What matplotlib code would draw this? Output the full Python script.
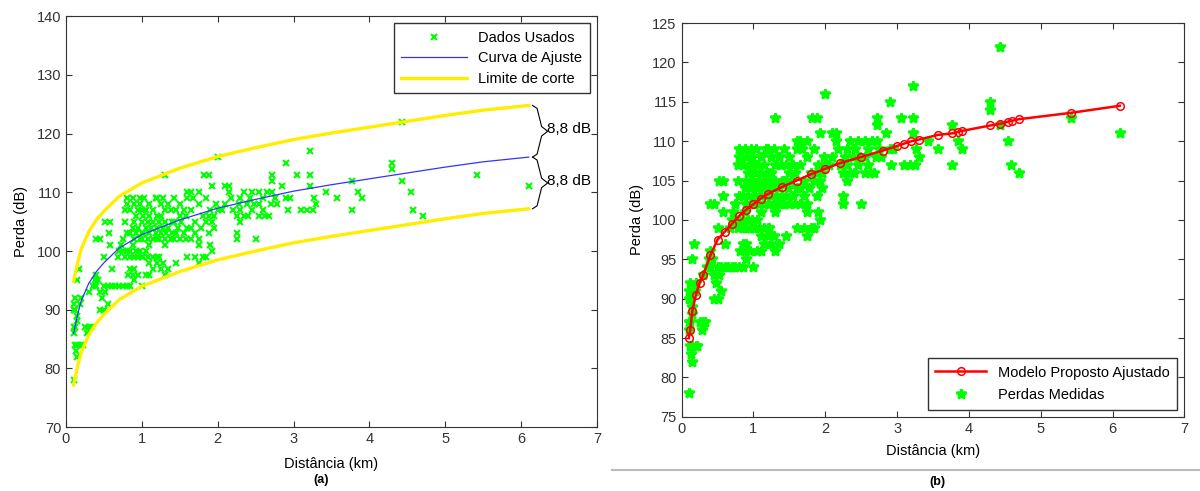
import numpy as np
import matplotlib
matplotlib.use("Agg")
import matplotlib.pyplot as plt

# measured losses (km, dB) - same data in both panels
dist_km = [
    0.10, 0.15, 0.13, 0.12, 0.15, 0.20, 0.22, 0.10, 0.10, 0.12, 0.15, 0.14, 0.10, 0.12, 0.10, 0.18, 0.12, 0.20, 0.15, 0.17,
    0.28, 0.25, 0.30, 0.33, 0.30, 0.35, 0.40, 0.38, 0.40,
    0.45, 0.50, 0.55, 0.48, 0.45, 0.52, 0.50, 0.55, 0.60, 0.42, 0.50, 0.58, 0.40, 0.45, 0.57, 0.52, 0.58,
    0.65, 0.70, 0.75, 0.60, 0.68, 0.78, 0.70, 0.75, 0.80, 0.72, 0.75, 0.80, 0.78, 0.78, 0.80, 0.80,
    0.80, 0.85, 0.90, 0.82, 0.88, 0.95, 0.85, 0.90, 0.85, 0.90, 0.95, 1.00, 0.85, 0.92, 0.98, 0.88, 0.90, 0.98,
    0.85, 0.92, 1.00, 0.88, 0.95, 0.90, 1.00, 0.92, 0.85, 0.95, 1.00, 0.90, 0.98, 0.88, 0.97,
    1.00, 1.05, 1.10, 1.15, 1.10, 1.20, 1.02, 1.08, 1.15, 1.20, 1.05, 1.10, 1.00, 1.08, 1.15, 1.20, 1.02, 1.10, 1.18,
    1.05, 1.12, 1.20, 1.08, 1.15, 1.02, 1.10, 1.20, 1.05, 1.15, 1.10, 1.03, 1.18,
    1.30, 1.25, 1.35, 1.28, 1.22, 1.30, 1.22, 1.30, 1.38, 1.25, 1.32, 1.40, 1.28, 1.35, 1.22, 1.30, 1.40, 1.25,
    1.30, 1.38, 1.25, 1.35, 1.20, 1.28, 1.30,
    1.45, 1.42, 1.50, 1.58, 1.45, 1.55, 1.48, 1.60, 1.42, 1.52, 1.50, 1.58, 1.45, 1.55, 1.50, 1.42, 1.60, 1.60, 1.60,
    1.75, 1.70, 1.80, 1.75, 1.65, 1.75, 1.70, 1.65, 1.78, 1.70, 1.80, 1.65, 1.75, 1.68, 1.65, 1.75, 1.82,
    1.85, 1.93, 1.90, 1.88, 1.95, 1.85, 1.92, 1.88, 1.95, 1.90, 2.00, 1.98, 1.85, 1.93, 1.88, 2.00,
    2.25, 2.30, 2.25, 2.35, 2.40, 2.05, 2.20, 2.30, 2.45, 2.10, 2.28, 2.38, 2.48, 2.18, 2.30, 2.42, 2.15, 2.35, 2.45,
    2.10, 2.15, 2.50, 2.25,
    2.55, 2.62, 2.68, 2.60, 2.92, 2.55, 2.70, 2.78, 2.60, 2.75, 2.90, 2.95, 2.55, 2.65, 2.72, 2.85, 2.72, 2.72, 2.90,
    3.10, 3.18, 3.25, 3.30, 3.27, 3.43, 3.22, 3.05, 3.22, 3.22,
    3.77, 3.57, 3.90, 3.85, 3.77,
    4.30, 4.30, 4.43, 4.43, 4.55, 4.58, 4.70, 5.42, 6.10,
]
loss_db = [
    78, 82, 83, 84, 84, 84, 84, 86, 87, 87, 88, 89, 90, 90, 91, 91, 92, 92, 95, 97,
    86, 87, 87, 87, 93, 94, 94, 95, 96,
    90, 90, 91, 92, 93, 93, 94, 94, 94, 95, 99, 101, 102, 102, 103, 105, 105,
    94, 94, 94, 97, 99, 99, 100, 100, 100, 101, 102, 103, 105, 107, 108, 109,
    94, 94, 95, 96, 96, 96, 97, 97, 99, 99, 99, 99, 100, 100, 100, 101, 102, 102,
    103, 103, 103, 104, 104, 105, 105, 106, 107, 107, 107, 108, 108, 109, 109,
    94, 96, 96, 97, 98, 98, 99, 99, 99, 99, 100, 101, 102, 102, 102, 102, 103, 103, 103,
    104, 104, 104, 105, 105, 106, 106, 106, 107, 107, 108, 109, 109,
    96, 97, 97, 98, 99, 101, 102, 102, 102, 103, 103, 103, 104, 104, 105, 105, 105, 106,
    107, 107, 108, 108, 109, 109, 113,
    98, 102, 102, 102, 103, 103, 104, 104, 105, 105, 106, 106, 107, 107, 108, 109, 109, 110, 99,
    98, 99, 99, 101, 102, 102, 103, 104, 104, 105, 106, 107, 108, 109, 110, 110, 113,
    99, 100, 101, 103, 104, 105, 105, 106, 106, 107, 107, 108, 109, 111, 113, 116,
    103, 105, 106, 106, 106, 107, 107, 107, 107, 108, 108, 108, 108, 109, 109, 109, 110, 110, 110,
    111, 111, 102, 102,
    106, 106, 106, 107, 107, 108, 108, 108, 109, 109, 109, 109, 110, 110, 110, 111, 112, 113, 115,
    107, 107, 107, 108, 109, 110, 111, 113, 113, 117,
    107, 109, 109, 110, 112,
    114, 115, 112, 122, 110, 107, 106, 113, 111,
]

# fitted curve of panel (a)
fit_a_km = [0.10, 0.15, 0.20, 0.30, 0.40, 0.50, 0.70, 1.00, 1.50, 2.00, 2.50, 3.00, 3.50, 4.00, 4.50, 5.00, 5.50, 6.10]
fit_a_db = [86.0, 89.0, 91.5, 94.5, 96.5, 98.0, 100.5, 102.8, 105.3, 107.3, 108.8, 110.2, 111.3, 112.3, 113.3, 114.3, 115.2, 116.0]
margin_db = 8.8

# fitted model of panel (b)
fit_b_km = [0.10, 0.12, 0.15, 0.20, 0.25, 0.30, 0.40, 0.50, 0.60, 0.70, 0.80, 0.90, 1.00, 1.10, 1.20, 1.40,
            1.60, 1.80, 2.00, 2.20, 2.50, 2.80, 3.00, 3.10, 3.20, 3.30, 3.57, 3.77, 3.85, 3.90, 4.30,
            4.43, 4.55, 4.60, 4.70, 5.42, 6.10]
fit_b_db = [85.0, 86.0, 88.5, 90.5, 92.0, 93.0, 95.5, 97.5, 98.5, 99.5, 100.5, 101.3, 102.0, 102.7, 103.3, 104.2,
            105.0, 105.8, 106.5, 107.2, 108.0, 108.8, 109.4, 109.7, 110.0, 110.2, 110.8, 111.0, 111.2, 111.3, 112.0,
            112.2, 112.5, 112.6, 112.8, 113.6, 114.5]

plt.rcParams['font.family'] = ['Liberation Sans', 'DejaVu Sans']
plt.rcParams['font.size'] = 10.5
plt.rcParams['xtick.direction'] = 'in'
plt.rcParams['ytick.direction'] = 'in'
plt.rcParams['xtick.top'] = True
plt.rcParams['ytick.right'] = True

fig = plt.figure(figsize=(12, 4.91), dpi=100)
ax1 = fig.add_axes([0.055, 0.130, 0.4425, 0.837])
ax2 = fig.add_axes([0.568, 0.151, 0.419, 0.802])

# panel (a)
ax1.plot(dist_km, loss_db, 'x', color='#00ff00', ms=5, mew=1.5, label='Dados Usados')
ax1.plot(fit_a_km, fit_a_db, '-', color='#3333ff', lw=0.9, label='Curva de Ajuste')
upper = [v + margin_db for v in fit_a_db]
lower = [v - margin_db for v in fit_a_db]
ax1.plot(fit_a_km, upper, '-', color='#ffee00', lw=2.4, label='Limite de corte')
ax1.plot(fit_a_km, lower, '-', color='#ffee00', lw=2.4)

# braces for the 8,8 dB margins
xe = fit_a_km[-1] + 0.05
for top, bot in [(upper[-1], fit_a_db[-1]), (fit_a_db[-1], lower[-1])]:
    mid = (top + bot) / 2
    bx = [xe, xe + 0.06, xe + 0.12, xe + 0.2, xe + 0.12, xe + 0.06, xe]
    by = [top, top - 0.5, mid + 0.8, mid, mid - 0.8, bot + 0.5, bot]
    ax1.plot(bx, by, color='black', lw=0.8, clip_on=False)
    ax1.text(xe + 0.19, mid + 0.4, '8,8 dB', fontsize=11, va='center', ha='left')

ax1.set_xlim(0, 7)
ax1.set_ylim(70, 140)
ax1.set_yticks(np.arange(70, 141, 10))
ax1.set_xlabel('Distância (km)', labelpad=8)
ax1.set_ylabel('Perda (dB)', labelpad=6)
leg1 = ax1.legend(loc='upper right', fontsize=10.5, frameon=True, fancybox=False,
                  edgecolor='black', borderaxespad=0.5, handlelength=4.5,
                  labelspacing=0.45, borderpad=0.5)
leg1.get_frame().set_linewidth(1.0)

# panel (b)
ax2.plot(fit_b_km, fit_b_db, '-o', color='red', ms=5.5, mfc='none', mew=1.1, lw=1.8,
         label='Modelo Proposto Ajustado', zorder=4)
ax2.plot(dist_km, loss_db, '*', color='#00ff00', ms=7, mew=1.8, label='Perdas Medidas', zorder=3)
ax2.set_xlim(0, 7)
ax2.set_ylim(75, 125)
ax2.set_yticks(np.arange(75, 126, 5))
ax2.set_xlabel('Distância (km)', labelpad=6)
ax2.set_ylabel('Perda (dB)', labelpad=6)
leg2 = ax2.legend(loc='lower right', fontsize=10.5, frameon=True, fancybox=False,
                  edgecolor='black', borderaxespad=0.5, handlelength=3.5,
                  labelspacing=0.6, borderpad=0.5)
leg2.get_frame().set_linewidth(1.0)

for ax in (ax1, ax2):
    for s in ax.spines.values():
        s.set_color('#333333')
    ax.tick_params(colors='#333333', length=4)

fig.text(0.268, 0.022, '(a)', fontsize=9, fontweight='bold', ha='center', va='center')
fig.text(0.781, 0.018, '(b)', fontsize=9, fontweight='bold', ha='center', va='center')
fig.add_artist(plt.Line2D([0.51, 1.0], [0.043, 0.043], color='#bbbbbb', lw=1.5))

fig.savefig('out.png', dpi=100)
